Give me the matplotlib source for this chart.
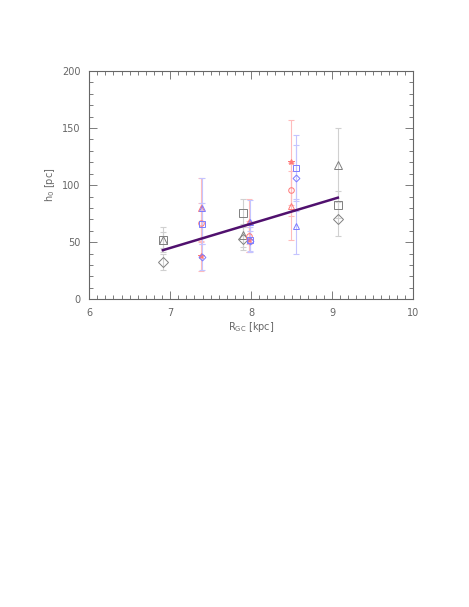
import matplotlib
matplotlib.use("Agg")
import matplotlib.pyplot as plt
from matplotlib.ticker import MultipleLocator

# ---- data ----
# gray (black) sample
gx = [6.91, 7.90, 9.07]
g_tri = [52, 56, 118]
g_tri_err = [11, 10, 32]
g_sq = [52, 76, 83]
g_sq_err = [7, 12, 12]
g_dia = [33, 53, 70]
g_dia_err = [7, 10, 15]

# red sample
rx = [7.38, 7.97, 8.49]
r_tri = [80, 68, 82]
r_tri_err = [26, 20, 30]
r_circ = [67, 55, 96]
r_circ_err = [17, 14, 23]
r_star = [38, 52, 120]
r_star_err = [13, 11, 37]

# blue sample
bx = [7.39, 7.98, 8.55]
b_tri = [80, 68, 64]
b_tri_err = [26, 19, 24]
b_sq = [66, 52, 115]
b_sq_err = [18, 11, 29]
b_dia = [37, 51, 106]
b_dia_err = [11, 9, 29]

fit_x = [6.91, 9.07]
fit_y = [43, 89]

xticks = [6, 7, 8, 9, 10]
yticks = [0, 50, 100, 150, 200]

# ---- plot ----
fig = plt.figure(figsize=(4.69, 6.07), dpi=100)
ax = fig.add_axes([0.190, 0.507, 0.691, 0.376])

txt = '#666666'
gray_m, gray_e = '#808080', '#d0d0d0'
red_m, red_e = '#ff7878', '#ffbcbc'
blue_m, blue_e = '#7c7cff', '#c4c4ff'

def series(x, y, e, mcol, ecol, marker, filled, ms):
    ax.errorbar(x, y, yerr=e, fmt='none', ecolor=ecol, elinewidth=0.8,
                capsize=2, capthick=0.8, zorder=1)
    ax.plot(x, y, linestyle='none', marker=marker, ms=ms,
            mfc=(mcol if filled else 'none'), mec=mcol, mew=0.7, zorder=2)

series(gx, g_tri, g_tri_err, gray_m, gray_e, '^', False, 6)
series(gx, g_sq, g_sq_err, gray_m, gray_e, 's', False, 6)
series(gx, g_dia, g_dia_err, gray_m, gray_e, 'D', False, 5)

series(rx, r_tri, r_tri_err, red_m, red_e, '^', False, 4)
series(rx, r_circ, r_circ_err, red_m, red_e, 'o', False, 4)
series(rx, r_star, r_star_err, red_m, red_e, '*', True, 4)

series(bx, b_tri, b_tri_err, blue_m, blue_e, '^', False, 4.5)
series(bx, b_sq, b_sq_err, blue_m, blue_e, 's', False, 4.5)
series(bx, b_dia, b_dia_err, blue_m, blue_e, 'D', False, 3.5)

ax.plot(fit_x, fit_y, color='#50106e', lw=1.8, zorder=3)

ax.set_xlim(6, 10)
ax.set_ylim(0, 200)
ax.set_xticks(xticks)
ax.set_yticks(yticks)
ax.xaxis.set_minor_locator(MultipleLocator(0.1))
ax.yaxis.set_minor_locator(MultipleLocator(10))
ax.tick_params(which='both', direction='in', top=True, right=True,
               colors=txt, labelsize=7, width=0.6)
ax.tick_params(which='major', length=6, pad=6)
ax.tick_params(which='minor', length=3)
for s in ax.spines.values():
    s.set_color(txt)
    s.set_linewidth(0.8)

ax.set_xlabel(r'R$_{\rm GC}$ [kpc]', fontsize=7, color=txt, labelpad=2)
ax.set_ylabel(r'h$_0$ [pc]', fontsize=7, color=txt, labelpad=4)

fig.savefig('out.png', dpi=100)
